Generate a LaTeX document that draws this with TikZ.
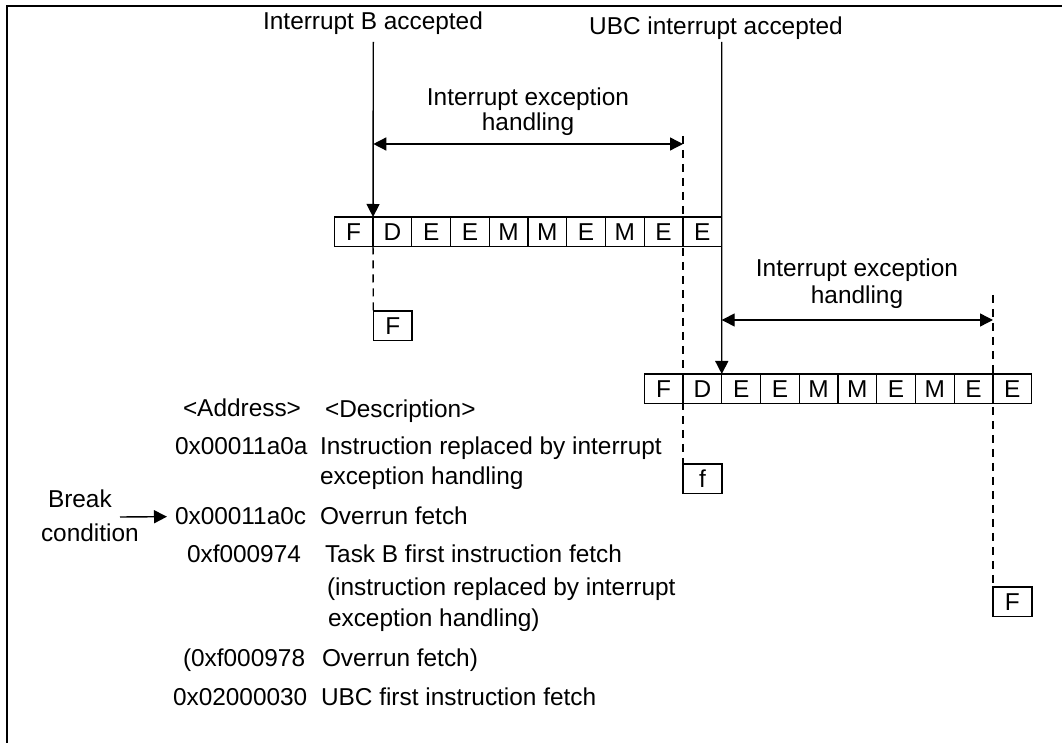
\documentclass[tikz,border=0pt]{standalone}
\usepackage{fontspec}
\setmainfont{Liberation Sans}
\usetikzlibrary{arrows.meta}
\begin{document}
\begin{tikzpicture}[x=0.5pt,y=-0.5pt,
  font=\fontsize{12.2pt}{14pt}\selectfont,
  every node/.style={inner sep=0pt, outer sep=0pt},
  cell/.style={draw, line width=0.7pt, minimum width=19.37pt, minimum height=14.75pt, anchor=north west},
  fbox/.style={draw, line width=0.7pt, minimum width=19.4pt, minimum height=14.75pt, anchor=north west},
  ln/.style={line width=0.7pt},
  dsh/.style={line width=0.7pt, dash pattern=on 4pt off 3pt},
  tip/.style={-{Triangle[length=6.5pt,width=6.5pt]}},
  dbl/.style={{Triangle[length=6.5pt,width=6.5pt]}-{Triangle[length=6.5pt,width=6.5pt]}},
  txt/.style={anchor=base west},
  ctxt/.style={anchor=base}]
\useasboundingbox (0,0) rectangle (1062,743);
\draw[line width=1pt] (7,743) -- (7,6) -- (1062,6);

% pipeline rows
\foreach \l [count=\i from 0] in {F,D,E,E,M,M,E,M,E,E}
  \node[cell] (a\i) at ({334.3+38.74*\i},217) {\l};
\foreach \l [count=\i from 0] in {F,D,E,E,M,M,E,M,E,E}
  \node[cell] (b\i) at ({644.3+38.74*\i},374) {\l};

% small fetch boxes
\node[fbox] (F1) at (373.3,311) {F};
\node[fbox] (f2) at (683,464) {f};
\node[fbox] (F3) at (993,587) {F};

% top labels and arrows
\node[ctxt] (lbB) at (373,30) {Interrupt B accepted};
\node[ctxt] (lbU) at (716,35) {UBC interrupt accepted};
\coordinate (tB) at (373.3,42);
\coordinate (tU) at (721.7,42);
\draw[ln,tip] (tB) -- (a1.north west);
\draw[ln,tip] (tU) -- (b2.north west);

% handling spans
\node[ctxt] (h1t) at (528,106) {Interrupt exception};
\node[ctxt] (h1b) at (528,131) {handling};
\coordinate (h1l) at (373.3,144);
\coordinate (h1r) at (683,144);
\draw[ln,dbl] (h1l) -- (h1r);
\node[ctxt] (h2t) at (857,277) {Interrupt exception};
\node[ctxt] (h2b) at (857,304) {handling};
\coordinate (h2l) at (721.7,320);
\coordinate (h2r) at (993,320);
\draw[ln,dbl] (h2l) -- (h2r);

% dashed guides
\coordinate (d1) at (683,136);
\coordinate (d2) at (993,295);
\draw[dsh] (a1.south west) -- (F1.north west);
\draw[dsh] (d1) -- (f2.north west);
\draw[dsh] (d2) -- (F3.north west);

% table
\node[txt] (hA) at (183,417) {<Address>};
\node[txt] (hD) at (325,418) {<Description>};
\node[txt] (r1a) at (175,455) {0x00011a0a};
\node[txt] (r1d) at (320,455) {Instruction replaced by interrupt};
\node[txt] (r1e) at (320,485) {exception handling};
\node[txt] (r2a) at (175,525) {0x00011a0c};
\node[txt] (r2d) at (320,525) {Overrun fetch};
\node[txt] (r3a) at (187,563) {0xf000974};
\node[txt] (r3d) at (325,563) {Task B first instruction fetch};
\node[txt] (r3e) at (327,596) {(instruction replaced by interrupt};
\node[txt] (r3f) at (328,627) {exception handling)};
\node[txt] (r4a) at (183,667) {(0xf000978};
\node[txt] (r4d) at (322,667) {Overrun fetch)};
\node[txt] (r5a) at (173,705) {0x02000030};
\node[txt] (r5d) at (321,705) {UBC first instruction fetch};

\node[txt] (bk1) at (48,508) {Break};
\node[txt] (bk2) at (41,542) {condition};
\coordinate (bk) at (120,517);
\draw[ln,tip,shorten >=4pt] (bk) -- (r2a.west);
\end{tikzpicture}
\end{document}
